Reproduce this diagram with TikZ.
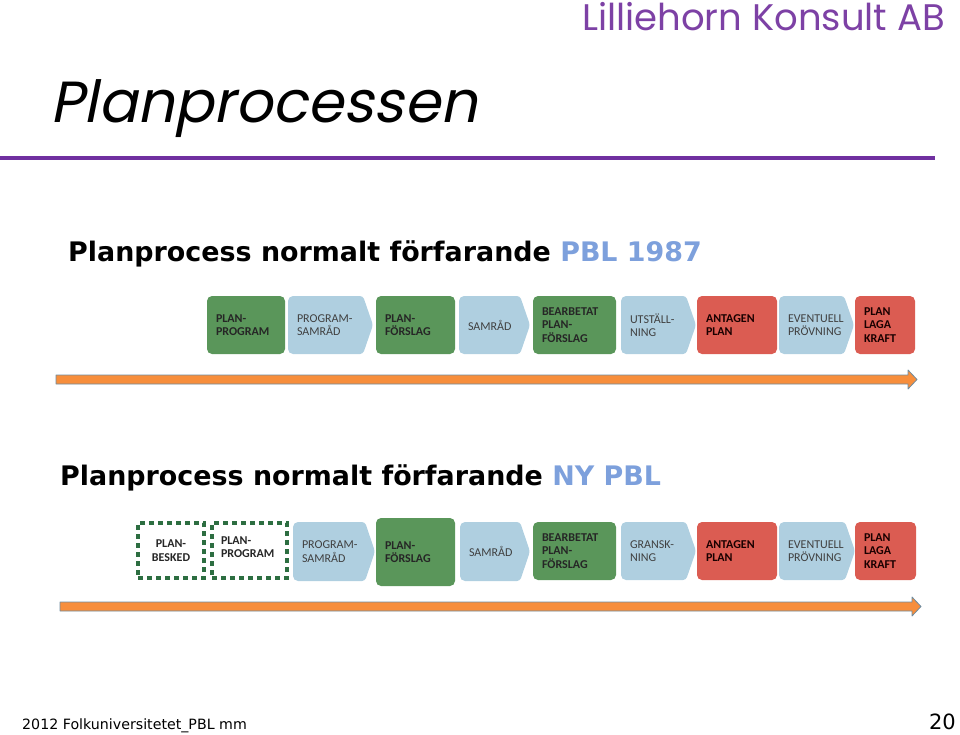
\documentclass[tikz,border=0pt]{standalone}
\usepackage{fontspec}
\setmainfont{Carlito}
\newfontfamily\gothicfont{Poppins}
\newfontfamily\titlefont{Poppins}[FakeSlant=0.2]
\newfontfamily\headfont{DejaVu Sans}
\newfontfamily\footfont{DejaVu Sans}
\usetikzlibrary{calc}

\definecolor{stepgreen}{RGB}{90,150,90}
\definecolor{stepblue}{RGB}{175,207,224}
\definecolor{stepred}{RGB}{219,92,82}
\definecolor{dashgreen}{RGB}{45,110,65}
\definecolor{rulepurple}{RGB}{112,48,160}
\definecolor{firmpurple}{RGB}{125,65,165}
\definecolor{pblblue}{RGB}{125,160,220}
\definecolor{arroworange}{RGB}{247,142,60}
\definecolor{arrowedge}{RGB}{110,140,160}

\tikzset{
  box/.style={rounded corners=5pt, inner xsep=9pt, inner ysep=0pt, outer sep=0pt,
    align=left, anchor=north west, text=black!85},
  greenbox/.style={box, fill=stepgreen, font=\fontsize{12}{13.5}\selectfont\bfseries},
  redbox/.style={box, fill=stepred, text=black!90!red, font=\fontsize{12}{13.5}\selectfont\bfseries},
  dashbox/.style={box, draw=dashgreen, line width=3.5pt, dash pattern=on 5pt off 4pt,
    rounded corners=0pt, font=\fontsize{12}{13.5}\selectfont\bfseries},
  chevron/.style={box, text=black!75, font=\fontsize{12}{13.5}\selectfont,
    path picture={\fill[stepblue, rounded corners=3pt]
      (path picture bounding box.north west)
      -- ([xshift=-10pt]path picture bounding box.north east)
      -- (path picture bounding box.east)
      -- ([xshift=-10pt]path picture bounding box.south east)
      -- (path picture bounding box.south west) -- cycle;}},
  timeline/.style={fill=arroworange, draw=arrowedge, line width=0.8pt, line join=round},
  heading/.style={anchor=base west, inner sep=0pt, font=\headfont\bfseries\fontsize{26.9}{30}\selectfont}
}

\begin{document}
\begin{tikzpicture}[x=1pt, y=-1pt]
    \useasboundingbox (0,0) rectangle (960,734);
    % header
    \node[anchor=base east, inner sep=0pt, text=firmpurple, font=\gothicfont\fontsize{37}{42}\selectfont] (firm) at (945,30) {Lilliehorn Konsult AB};
    \node[anchor=base west, inner sep=0pt, font=\titlefont\fontsize{58}{68}\selectfont] (title) at (50,122) {Planprocessen};
    \draw[rulepurple, line width=4pt] (0,158) -- (935,158);
    % PBL 1987
    \node[heading] (head1) at (68,261) {Planprocess normalt förfarande \textcolor{pblblue}{PBL 1987}};
    \node[greenbox, minimum height=58pt, text width=60pt] (pp1) at (207,296) {PLAN-\\PROGRAM};
    \node[chevron, minimum height=58pt, text width=67pt] (ps1) at (288,296) {PROGRAM-\\SAMRÅD};
    \node[greenbox, minimum height=58pt, text width=61pt] (pf1) at (376,296) {PLAN-\\FÖRSLAG};
    \node[chevron, minimum height=58pt, text width=53pt] (sa1) at (459,296) {SAMRÅD};
    \node[greenbox, minimum height=58pt, text width=65pt] (bp1) at (533,296) {BEARBETAT\\PLAN-\\FÖRSLAG};
    \node[chevron, minimum height=58pt, text width=57pt] (ut1) at (621,296) {UTSTÄLL-\\NING};
    \node[redbox, minimum height=58pt, text width=62pt] (ap1) at (697,296) {ANTAGEN\\PLAN};
    \node[chevron, minimum height=58pt, text width=57pt] (ep1) at (779,296) {EVENTUELL\\PRÖVNING};
    \node[redbox, minimum height=58pt, text width=42pt] (lk1) at (855,296) {PLAN\\LAGA\\KRAFT};
    \draw[timeline] (56,375) -- (908,375) -- (908,370) -- (917,379.5) -- (908,389) -- (908,384) -- (56,384) -- cycle;
    % NY PBL
    \node[heading] (head2) at (60,485) {Planprocess normalt förfarande \textcolor{pblblue}{NY PBL}};
    \node[dashbox, minimum height=55pt, text width=48pt, align=center] (pb2) at (138,523) {PLAN-\\BESKED};
    \node[dashbox, minimum height=55pt, text width=57pt, text depth=20pt] (pp2) at (212,523) {PLAN-\\PROGRAM};
    \node[chevron, minimum height=59pt, text width=64pt] (ps2) at (293,522) {PROGRAM-\\SAMRÅD};
    \node[greenbox, minimum height=68pt, text width=61pt] (pf2) at (376,518) {PLAN-\\FÖRSLAG};
    \node[chevron, minimum height=59pt, text width=52pt] (sa2) at (460,522) {SAMRÅD};
    \node[greenbox, minimum height=58pt, text width=65pt] (bp2) at (533,522) {BEARBETAT\\PLAN-\\FÖRSLAG};
    \node[chevron, minimum height=58pt, text width=57pt] (gr2) at (621,522) {GRANSK-\\NING};
    \node[redbox, minimum height=58pt, text width=62pt] (ap2) at (697,522) {ANTAGEN\\PLAN};
    \node[chevron, minimum height=58pt, text width=58pt] (ep2) at (779,522) {EVENTUELL\\PRÖVNING};
    \node[redbox, minimum height=58pt, text width=43pt] (lk2) at (855,522) {PLAN\\LAGA\\KRAFT};
    \draw[timeline] (60,602) -- (912,602) -- (912,597) -- (921,606.5) -- (912,616) -- (912,611) -- (60,611) -- cycle;
    % footer
    \node[anchor=base west, inner sep=0pt, font=\footfont\fontsize{14.2}{17}\selectfont] (foot) at (22,729) {2012 Folkuniversitetet\_PBL mm};
    \node[anchor=base east, inner sep=0pt, font=\footfont\fontsize{21}{24}\selectfont] (page) at (956,729) {20};
\end{tikzpicture}
\end{document}
